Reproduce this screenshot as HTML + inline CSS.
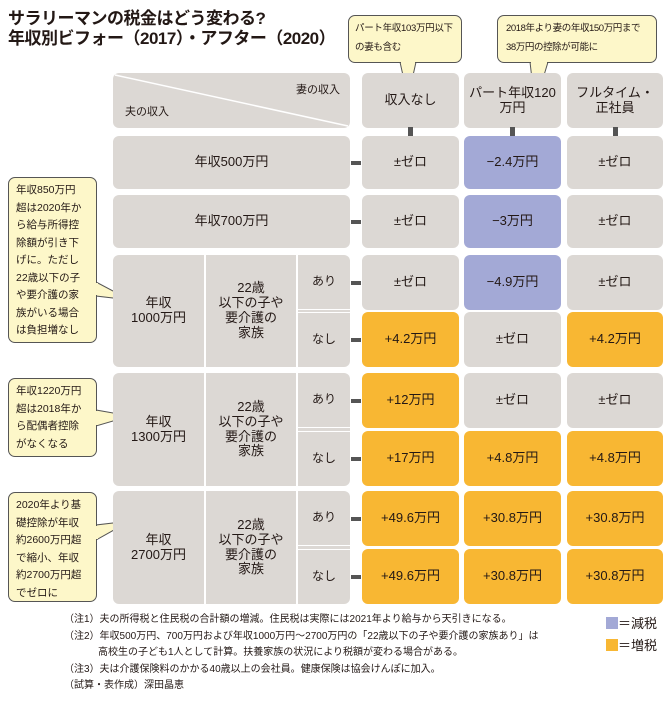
<!DOCTYPE html>
<html><head><meta charset="utf-8"><style>
body{margin:0;width:669px;height:704px;background:#fff;position:relative;overflow:hidden;font-family:"Liberation Sans","Noto Sans CJK JP",sans-serif;color:#231815}
.b{position:absolute;display:flex;align-items:center;justify-content:center;text-align:center;border-radius:6px;box-sizing:border-box;line-height:1.15}
.g{background:#dcd8d4}
.c{position:absolute;background:#fdf7c9;border:1px solid #555;border-radius:7px;font-size:10.5px;line-height:17px;box-sizing:border-box;padding:4px 8px}
.k{position:absolute;background:#555}
.lc{white-space:nowrap;font-size:10.5px;line-height:17.5px;padding:4px 7px}
</style></head><body>
<div style="position:absolute;left:8px;top:9px;font-size:17px;font-weight:bold;line-height:20px;letter-spacing:-0.5px;white-space:nowrap">サラリーマンの税金はどう変わる?<br>年収別ビフォー（2017）・アフター（2020）</div>

<svg style="position:absolute;left:0;top:0" width="669" height="704">
<polygon points="400,62 416,62 408,98" fill="#fdf7c9" stroke="#555"/>
<polygon points="530,62 548,62 535,105" fill="#fdf7c9" stroke="#555"/>
<polygon points="96,282 96,296 130,300" fill="#fdf7c9" stroke="#555"/>
<polygon points="96,410 96,426 130,416" fill="#fdf7c9" stroke="#555"/>
<polygon points="96,525 96,540 130,521" fill="#fdf7c9" stroke="#555"/>
</svg>
<div class="c" style="left:348px;top:15px;width:114px;height:48px;font-size:9.5px;line-height:19px;padding:3px 6px;white-space:nowrap;letter-spacing:-0.3px">パート年収103万円以下<br>の妻も含む</div>
<div class="c" style="left:497px;top:15px;width:160px;height:48px;font-size:9.5px;line-height:19px;padding:3px 8px;white-space:nowrap;letter-spacing:-0.4px">2018年より妻の年収150万円まで<br>38万円の控除が可能に</div>
<div class="c lc" style="left:8px;top:177px;width:89px;height:166px">年収850万円<br>超は2020年か<br>ら給与所得控<br>除額が引き下<br>げに。ただし<br>22歳以下の子<br>や要介護の家<br>族がいる場合<br>は負担増なし</div>
<div class="c lc" style="left:8px;top:378px;width:89px;height:79px">年収1220万円<br>超は2018年か<br>ら配偶者控除<br>がなくなる</div>
<div class="c lc" style="left:8px;top:492px;width:89px;height:110px">2020年より基<br>礎控除が年収<br>約2600万円超<br>で縮小、年収<br>約2700万円超<br>でゼロに</div>
<svg style="position:absolute;left:0;top:0" width="669" height="704">
<line x1="97" y1="283" x2="97" y2="295" stroke="#fdf7c9" stroke-width="2"/>
<line x1="97" y1="411" x2="97" y2="425" stroke="#fdf7c9" stroke-width="2"/>
<line x1="97" y1="526" x2="97" y2="539" stroke="#fdf7c9" stroke-width="2"/>
<line x1="401" y1="62" x2="415" y2="62" stroke="#fdf7c9" stroke-width="2"/>
<line x1="531" y1="62" x2="547" y2="62" stroke="#fdf7c9" stroke-width="2"/>
</svg>

<div class="b g" style="left:113px;top:73px;width:237px;height:55px;display:block">
<svg width="237" height="55" style="position:absolute;left:0;top:0"><line x1="2" y1="2" x2="235" y2="53" stroke="#fff" stroke-width="1.5"/></svg>
<span style="position:absolute;right:10px;top:11px;font-size:11px">妻の収入</span>
<span style="position:absolute;left:12px;top:33px;font-size:11px">夫の収入</span></div>

<div id="grid"></div>

<div style="position:absolute;left:64px;top:612px;font-size:10px;line-height:16.5px">（注1）夫の所得税と住民税の合計額の増減。住民税は実際には2021年より給与から天引きになる。<br>（注2）年収500万円、700万円および年収1000万円〜2700万円の「22歳以下の子や要介護の家族あり」は<br><span style="padding-left:34px">高校生の子ども1人として計算。扶養家族の状況により税額が変わる場合がある。</span><br>（注3）夫は介護保険料のかかる40歳以上の会社員。健康保険は協会けんぽに加入。<br>（試算・表作成）深田晶恵</div>
<div style="position:absolute;left:606px;top:616px;font-size:13px;line-height:16px"><span style="display:inline-block;width:12px;height:12px;background:#a3a9d6;vertical-align:-1px"></span>＝減税</div>
<div style="position:absolute;left:606px;top:638px;font-size:13px;line-height:16px"><span style="display:inline-block;width:12px;height:12px;background:#f8b733;vertical-align:-1px"></span>＝増税</div>

<script>
const wifeCategories=["収入なし","パート年収120<br>万円","フルタイム・<br>正社員"];
const rowLabels=["年収500万円","年収700万円","年収1000万円|あり","年収1000万円|なし","年収1300万円|あり","年収1300万円|なし","年収2700万円|あり","年収2700万円|なし"];
const changeValues=[[0,-2.4,0],[0,-3,0],[0,-4.9,0],[4.2,0,4.2],[12,0,0],[17,4.8,4.8],[49.6,30.8,30.8],[49.6,30.8,30.8]];
const colX=[362,464,567], colW=[97,97,96];
const rowY=[136,195,255,312,373,431,491,549], rowH=[53,53,55,55,55,55,55,55];
const g=document.getElementById('grid');
function mk(cls,st,html){const d=document.createElement('div');d.className=cls;d.style.cssText=st;d.innerHTML=html;g.appendChild(d);return d;}
function fmt(v){return v===0?"±ゼロ":(v<0?"−"+(-v):"+"+v)+"万円";}
function color(v){return v<0?"#a3a9d6":v>0?"#f8b733":"#dcd8d4";}
wifeCategories.forEach((c,i)=>{
 const d=mk('b g',`left:${colX[i]}px;top:73px;width:${colW[i]}px;height:55px;font-size:13px`,c);
 
 
 const k=mk('k',`left:${colX[i]+46}px;top:127px;width:5px;height:9px`,'');
 
 
});
[0,1].forEach(r=>{
 const d=mk('b g',`left:113px;top:${rowY[r]}px;width:237px;height:${rowH[r]}px;font-size:13px`,rowLabels[r]);
 
 
});
[2,4,6].forEach(r=>{
 const h=rowY[r+1]+rowH[r+1]-rowY[r];
 const a=mk('b g',`left:113px;top:${rowY[r]}px;width:91px;height:${h}px;font-size:13px;border-radius:6px 0 0 6px`,rowLabels[r].split('|')[0].replace('年収','年収<br>'));
 
 
 const b=mk('b g',`left:206px;top:${rowY[r]}px;width:90px;height:${h}px;font-size:13px;border-radius:0`,'22歳<br>以下の子や<br>要介護の<br>家族');
 
 
 const gap=mk('',`position:absolute;left:298px;top:${rowY[r]+rowH[r]}px;width:52px;height:${rowY[r+1]-rowY[r]-rowH[r]}px;background:#dcd8d4`,'');
 
 
});
[2,3,4,5,6,7].forEach(r=>{
 const lab=rowLabels[r].split('|')[1];
 const top=r%2===0;
 const d=mk('b g',`left:298px;top:${rowY[r]}px;width:52px;height:${rowH[r]}px;font-size:12px;border-radius:${top?'0 6px 0 0':'0 0 6px 0'};background:#dcd8d4;border-${top?'bottom':'top'}:1px solid #fff`,lab);
 
 
});
changeValues.forEach((row,r)=>{
 const k=mk('k',`left:351px;top:${rowY[r]+rowH[r]/2-2}px;width:10px;height:4px`,'');
 
 
 row.forEach((v,i)=>{
  const d=mk('b',`left:${colX[i]}px;top:${rowY[r]}px;width:${colW[i]}px;height:${rowH[r]}px;font-size:13px;background:${color(v)}`,fmt(v));
  
  
 });
});
</script>
</body></html>
